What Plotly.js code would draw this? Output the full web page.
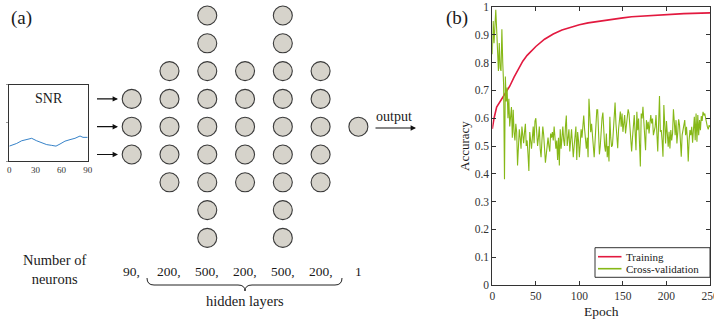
<!DOCTYPE html>
<html>
<head>
<meta charset="utf-8">
<script src="https://cdn.plot.ly/plotly-3.0.1.min.js"></script>
<style>
html,body{margin:0;padding:0;background:#fff;}
#chart{width:714px;height:321px;}
</style>
</head>
<body>
<div id="chart"></div>
<script>
// ---------------- data ----------------
const layerLabels = ['90,', '200,', '500,', '200,', '500,', '200,', '1'];
const nodesShown = [3, 5, 9, 5, 9, 5, 1];

const snrX = [0, 8.5, 14.2, 19.9, 25.7, 31.4, 37.2, 42.9, 48.6, 53.6, 58.2, 63.9, 69.7, 75.4, 81.2, 84.6, 90];
const snrY = [0.39, 0.46, 0.53, 0.56, 0.595, 0.53, 0.48, 0.43, 0.41, 0.39, 0.445, 0.52, 0.56, 0.595, 0.655, 0.62, 0.62];
const snrTicks = [0, 30, 60, 90];

const trainEpoch = [0, 2, 5, 8, 10, 12, 15, 18, 20, 25, 30, 35, 40, 45, 50, 60, 70, 80, 90, 100, 110, 120, 130, 140, 150, 160, 170, 180, 190, 200, 210, 220, 230, 240, 250];
const trainAcc = [0.562, 0.60, 0.64, 0.655, 0.665, 0.676, 0.69, 0.705, 0.715, 0.748, 0.778, 0.805, 0.826, 0.843, 0.858, 0.884, 0.903, 0.917, 0.927, 0.936, 0.943, 0.948, 0.953, 0.957, 0.961, 0.965, 0.967, 0.969, 0.972, 0.974, 0.975, 0.976, 0.977, 0.978, 0.979];

const cvAcc = [
  0.83, 0.95, 0.87, 0.93, 0.99, 0.92, 0.86, 0.77, 0.87, 0.78,
  0.77, 0.92, 0.80, 0.72, 0.38, 0.75, 0.66, 0.71, 0.60, 0.67,
  0.57, 0.60, 0.64, 0.53, 0.63, 0.55, 0.52, 0.58, 0.55, 0.43,
  0.50, 0.56, 0.53, 0.49, 0.57, 0.54, 0.51, 0.55, 0.58, 0.50,
  0.52, 0.47, 0.41, 0.55, 0.52, 0.49, 0.53, 0.57, 0.51, 0.59,
  0.60, 0.54, 0.50, 0.53, 0.57, 0.49, 0.46, 0.52, 0.57, 0.54,
  0.49, 0.44, 0.47, 0.50, 0.53, 0.50, 0.48, 0.545, 0.53, 0.55,
  0.52, 0.57, 0.53, 0.49, 0.52, 0.45, 0.53, 0.43, 0.56, 0.49,
  0.53, 0.57, 0.52, 0.50, 0.57, 0.61, 0.50, 0.53, 0.56, 0.48,
  0.52, 0.56, 0.51, 0.46, 0.50, 0.54, 0.57, 0.45, 0.55, 0.52,
  0.46, 0.51, 0.56, 0.53, 0.565, 0.61, 0.56, 0.52, 0.49, 0.53,
  0.46, 0.67, 0.59, 0.55, 0.58, 0.55, 0.50, 0.46, 0.52, 0.58,
  0.63, 0.63, 0.49, 0.47, 0.50, 0.58, 0.60, 0.62, 0.55, 0.50,
  0.48, 0.545, 0.46, 0.50, 0.444, 0.605, 0.53, 0.497, 0.503, 0.56,
  0.594, 0.656, 0.58, 0.527, 0.492, 0.56, 0.605, 0.624, 0.569, 0.617,
  0.551, 0.58, 0.611, 0.545, 0.58, 0.617, 0.632, 0.617, 0.56, 0.527,
  0.48, 0.53, 0.569, 0.611, 0.55, 0.485, 0.623, 0.557, 0.599, 0.50,
  0.426, 0.617, 0.599, 0.641, 0.59, 0.557, 0.485, 0.593, 0.56, 0.587,
  0.545, 0.58, 0.611, 0.581, 0.599, 0.539, 0.55, 0.569, 0.611, 0.55,
  0.48, 0.581, 0.68, 0.551, 0.557, 0.52, 0.461, 0.647, 0.557, 0.509,
  0.59, 0.55, 0.497, 0.551, 0.491, 0.557, 0.52, 0.545, 0.632, 0.587,
  0.539, 0.593, 0.509, 0.55, 0.596, 0.575, 0.50, 0.461, 0.539, 0.557,
  0.58, 0.593, 0.539, 0.569, 0.527, 0.444, 0.52, 0.557, 0.539, 0.569,
  0.512, 0.55, 0.605, 0.521, 0.617, 0.515, 0.611, 0.539, 0.593, 0.557,
  0.608, 0.59, 0.623, 0.61, 0.617, 0.599, 0.58, 0.569, 0.56, 0.575,
  0.568
];
const cvEpoch = cvAcc.map((_, i) => i);

const seriesNames = ['Training', 'Cross-validation'];
const seriesColors = ['#e2193f', '#86b817'];

const xTicks = [0, 50, 100, 150, 200, 250];
const yTicks = [0, 0.1, 0.2, 0.3, 0.4, 0.5, 0.6, 0.7, 0.8, 0.9, 1];

// ---------------- layout helpers ----------------
const W = 714, H = 321;
const FONT = 'Liberation Serif';
const TXT = '#1a1a1a';
const colX0 = 131.7, colDX = 37.78, rowYC = 126.7, rowDY = 27.8;

const nodeX = [], nodeY = [];
nodesShown.forEach((n, i) => {
  for (let j = 0; j < n; j++) {
    nodeX.push(colX0 + i * colDX);
    nodeY.push(rowYC + (j - (n - 1) / 2) * rowDY);
  }
});

const traces = [
  {
    x: trainEpoch, y: trainAcc, type: 'scatter', mode: 'lines', name: seriesNames[0],
    line: {color: seriesColors[0], width: 1.6}, xaxis: 'x', yaxis: 'y', showlegend: false
  },
  {
    x: cvEpoch, y: cvAcc, type: 'scatter', mode: 'lines', name: seriesNames[1],
    line: {color: seriesColors[1], width: 1.1}, xaxis: 'x', yaxis: 'y', showlegend: false
  },
  {
    x: snrX, y: snrY, type: 'scatter', mode: 'lines', showlegend: false,
    line: {color: '#1f74c2', width: 0.9}, xaxis: 'x2', yaxis: 'y2'
  },
  {
    x: nodeX, y: nodeY, type: 'scatter', mode: 'markers', showlegend: false,
    marker: {size: 19, color: '#d6d3cb', line: {color: '#3a3a3a', width: 1.1}},
    xaxis: 'x3', yaxis: 'y3', cliponaxis: false
  }
];

const annotations = [];
function txt(x, y, text, size, extra) {
  annotations.push(Object.assign({
    xref: 'x3', yref: 'y3', x: x, y: y, text: text, showarrow: false,
    xanchor: 'center', yanchor: 'middle',
    font: {family: FONT, size: size, color: TXT}
  }, extra || {}));
}
function arrow(x0, x1, y) {
  annotations.push({
    xref: 'x3', yref: 'y3', axref: 'x3', ayref: 'y3',
    x: x1, y: y, ax: x0, ay: y, text: '', showarrow: true,
    arrowhead: 2, arrowsize: 0.9, arrowwidth: 1.2, arrowcolor: '#111', standoff: 0, startstandoff: 0
  });
}

txt(21.5, 18, '(a)', 19);
txt(457, 18, '(b)', 19);
txt(48.5, 98.5, 'SNR', 14);
for (let j = 0; j < nodesShown[0]; j++) {
  arrow(95.5, 118, rowYC + (j - (nodesShown[0] - 1) / 2) * rowDY);
}
arrow(374, 416, 128);
txt(394, 116, 'output', 14);
layerLabels.forEach((t, i) => txt(colX0 + i * colDX, 271, t, 13.5));
txt(54.5, 269.5, 'Number of<br>neurons', 14.5);
txt(245, 300.5, 'hidden layers', 14.5);
txt(601, 311, 'Epoch', 13.5);
txt(464, 146, 'Accuracy', 13, {textangle: -90});

const shapes = [
  {
    type: 'path', xref: 'x3', yref: 'y3',
    path: 'M 147 278 Q 147 285 154 285 L 238 285 Q 245 285 245 291 Q 245 285 252 285 L 335 285 Q 342 285 342 278',
    line: {color: '#222', width: 1}
  },
  // legend box
  {
    type: 'rect', xref: 'x3', yref: 'y3', x0: 595, x1: 710, y0: 247.7, y1: 277.3,
    line: {color: '#333', width: 1}, fillcolor: '#fff'
  }
];
// legend entries
const legY = [256.7, 268.7];
seriesNames.forEach((nm, i) => {
  shapes.push({
    type: 'line', xref: 'x3', yref: 'y3', x0: 598, x1: 621.5, y0: legY[i], y1: legY[i],
    line: {color: seriesColors[i], width: 1.6}
  });
  txt(624, legY[i], nm, 11, {xanchor: 'left'});
});

const axB = {
  showgrid: false, zeroline: false, showline: true, mirror: 'ticks',
  linecolor: '#333', linewidth: 1, ticks: 'inside', ticklen: 4, tickcolor: '#333',
  tickfont: {family: FONT, size: 11.5, color: '#333'}, automargin: false,
  ticklabeloverflow: 'allow'
};

const layout = {
  width: W, height: H,
  margin: {l: 0, r: 0, t: 0, b: 0},
  paper_bgcolor: '#fff', plot_bgcolor: 'rgba(0,0,0,0)',
  showlegend: false,
  xaxis: Object.assign({}, axB, {
    domain: [492.3 / W, 710 / W], range: [0, 250], tickvals: xTicks, anchor: 'y'
  }),
  yaxis: Object.assign({}, axB, {
    domain: [1 - 285 / H, 1 - 7 / H], range: [0, 1], tickvals: yTicks, anchor: 'x'
  }),
  xaxis2: {
    domain: [9.3 / W, 87.7 / W], range: [0, 90], tickvals: snrTicks, anchor: 'y2',
    showgrid: false, zeroline: false, showline: true, mirror: true,
    linecolor: '#333', linewidth: 1, ticks: '',
    tickfont: {family: FONT, size: 9, color: '#333'}
  },
  yaxis2: {
    domain: [1 - 161 / H, 1 - 84.7 / H], range: [0, 2], tickvals: [0, 1, 2], anchor: 'x2',
    showgrid: false, zeroline: false, showline: true, mirror: true,
    linecolor: '#333', linewidth: 1, ticks: 'outside', ticklen: 2, tickcolor: '#999',
    showticklabels: false
  },
  xaxis3: {domain: [0, 1], range: [0, W], visible: false, anchor: 'y3', fixedrange: true},
  yaxis3: {domain: [0, 1], range: [H, 0], visible: false, anchor: 'x3', fixedrange: true},
  annotations: annotations,
  shapes: shapes
};

Plotly.newPlot('chart', traces, layout, {staticPlot: true, displayModeBar: false});
</script>
</body>
</html>
